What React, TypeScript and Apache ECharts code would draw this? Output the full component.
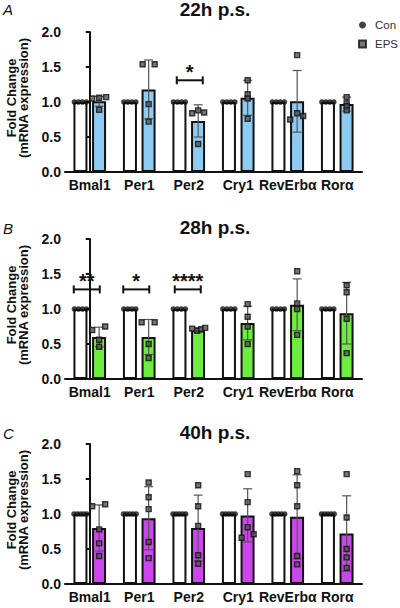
import React, { useEffect, useRef } from 'react';
import * as echarts from 'echarts';

// ---------- DATA ----------
const CATEGORIES = ['Bmal1', 'Per1', 'Per2', 'Cry1', 'RevErbα', 'Rorα'];
const PANEL_TITLES = ['22h p.s.', '28h p.s.', '40h p.s.'];
const PANEL_LETTERS = ['A', 'B', 'C'];
const Y_TITLE_1 = 'Fold Change';
const Y_TITLE_2 = '(mRNA expression)';

// 22h
const CON_MEAN_22 = [1, 1, 1, 1, 1, 1];
const EPS_MEAN_22 = [1.01, 1.18, 0.73, 1.06, 1.01, 0.97];
const EPS_SD_22 = [0.07, 0.42, 0.23, 0.25, 0.44, 0.1];
const CON_PTS_22 = [[1, 1, 1, 1], [1, 1, 1, 1], [1, 1, 1, 1], [1, 1, 1, 1], [1, 1, 1, 1], [1, 1, 1, 1]];
const EPS_PTS_22 = [
  [1.05, 1.06, 1.07, 0.89],
  [1.54, 1.54, 0.97, 0.72],
  [0.84, 0.88, 0.85, 0.4],
  [1.31, 1.11, 1.05, 0.76],
  [1.67, 0.84, 0.8, 0.75],
  [1.07, 0.98, 0.94, 0.88],
];
const SIG_22 = ['', '', '*', '', '', ''];
const SIG_H_22 = [0, 0, 1.31, 0, 0, 0];

// 28h
const CON_MEAN_28 = [1, 1, 1, 1, 1, 1];
const EPS_MEAN_28 = [0.6, 0.6, 0.7, 0.8, 1.06, 0.94];
const EPS_SD_28 = [0.14, 0.25, 0.03, 0.24, 0.37, 0.44];
const CON_PTS_28 = [[1, 1, 1, 1], [1, 1, 1, 1], [1, 1, 1, 1], [1, 1, 1, 1], [1, 1, 1, 1], [1, 1, 1, 1]];
const EPS_PTS_28 = [
  [0.7, 0.75, 0.56, 0.46],
  [0.81, 0.81, 0.5, 0.3],
  [0.72, 0.69, 0.71, 0.73],
  [1.07, 0.89, 0.75, 0.5],
  [1.54, 1.08, 1.0, 0.63],
  [1.34, 1.24, 0.86, 0.37],
];
const SIG_28 = ['**', '*', '****', '', '', ''];
const SIG_H_28 = [1.28, 1.28, 1.28, 0, 0, 0];

// 40h
const CON_MEAN_40 = [1, 1, 1, 1, 1, 1];
const EPS_MEAN_40 = [0.8, 0.94, 0.8, 0.98, 0.96, 0.72];
const EPS_SD_40 = [0.33, 0.45, 0.47, 0.38, 0.6, 0.54];
const CON_PTS_40 = [[1, 1, 1, 1, 1], [1, 1, 1, 1, 1], [1, 1, 1, 1, 1], [1, 1, 1, 1, 1], [1, 1, 1, 1, 1], [1, 1, 1, 1, 1]];
const EPS_PTS_40 = [
  [1.11, 1.14, 0.78, 0.58, 0.4],
  [1.45, 1.24, 1.07, 0.6, 0.37],
  [1.41, 1.11, 0.83, 0.41, 0.29],
  [1.57, 1.17, 0.81, 0.71, 0.66],
  [1.61, 1.41, 1.11, 0.4, 0.28],
  [1.57, 0.95, 0.5, 0.38, 0.23],
];
const SIG_40 = ['', '', '', '', '', ''];
const SIG_H_40 = [0, 0, 0, 0, 0, 0];

// ---------- LAYOUT / STYLE ----------
const FONT = 'Liberation Sans, Arial, Helvetica, sans-serif';
const CAT_PX = 49.5;
const BAR_OFF = 0.19; // bar centre offset in category units
const GRID_TOPS = [32, 239, 444];
const GRID_H = 140;
const COLORS = ['#8ecbf2', '#6ded3e', '#cc45ef'];
// horizontal jitter (px) of the EPS dots
const EPS_JIT = [
  [[-7, 0, 7, 0], [-6, 6, 0, 0], [-6, 0, 6, 0], [0, 0, 0, 0], [0, 0, 6, -7], [0, 0, 0, 0]],
  [[-7, 6, 0, 0], [-7, 6, 0, 0], [-6, -1, 3, 7], [0, 0, 0, 0], [0, 0, 0, 0], [0, 0, 0, 0]],
  [[-7, 6, 0, 0, 0], [0, 0, 0, 0, 0], [0, 0, 0, 0, 0], [0, 0, 0, 6, -6], [0, 0, 0, 0, 0], [0, 0, 0, 0, 0]],
];
const CON_JIT4 = [-6, -2, 2, 6];
const CON_JIT5 = [-6.4, -3.2, 0, 3.2, 6.4];
// bracket spans (px from category centre)
const BRACKET_SPAN = [
  [[0, 0], [0, 0], [-12, 14], [0, 0], [0, 0], [0, 0]],
  [[-16, 10], [-16, 10], [-14, 12], [0, 0], [0, 0], [0, 0]],
  [[0, 0], [0, 0], [0, 0], [0, 0], [0, 0], [0, 0]],
];

const PANELS = [
  { con: CON_MEAN_22, eps: EPS_MEAN_22, sd: EPS_SD_22, conPts: CON_PTS_22, epsPts: EPS_PTS_22, sig: SIG_22, sigH: SIG_H_22 },
  { con: CON_MEAN_28, eps: EPS_MEAN_28, sd: EPS_SD_28, conPts: CON_PTS_28, epsPts: EPS_PTS_28, sig: SIG_28, sigH: SIG_H_28 },
  { con: CON_MEAN_40, eps: EPS_MEAN_40, sd: EPS_SD_40, conPts: CON_PTS_40, epsPts: EPS_PTS_40, sig: SIG_40, sigH: SIG_H_40 },
];

function errRender(params: any, api: any) {
  const x = api.value(0);
  const m = api.value(1);
  const sd = api.value(2);
  if (!sd) return null;
  const top = api.coord([x, m + sd]);
  const bot = api.coord([x, m - sd]);
  const cap = 4.5;
  const st = { stroke: '#555', lineWidth: 1.2 };
  return {
    type: 'group',
    children: [
      { type: 'line', shape: { x1: top[0], y1: top[1], x2: bot[0], y2: bot[1] }, style: st },
      { type: 'line', shape: { x1: top[0] - cap, y1: top[1], x2: top[0] + cap, y2: top[1] }, style: st },
      { type: 'line', shape: { x1: bot[0] - cap, y1: bot[1], x2: bot[0] + cap, y2: bot[1] }, style: st },
    ],
  };
}

function makeSigRender(labels: string[], spans: number[][]) {
  return (params: any, api: any) => {
    const i = api.value(0);
    const h = api.value(1);
    const k = params.dataIndex;
    const c = api.coord([i, h]);
    const x1 = c[0] + spans[k][0];
    const x2 = c[0] + spans[k][1];
    const y = c[1];
    const st = { stroke: '#111', lineWidth: 2 };
    return {
      type: 'group',
      children: [
        { type: 'line', shape: { x1, y1: y, x2, y2: y }, style: st },
        { type: 'line', shape: { x1, y1: y - 4, x2: x1, y2: y + 4 }, style: st },
        { type: 'line', shape: { x1: x2, y1: y - 4, x2, y2: y + 4 }, style: st },
        {
          type: 'text',
          x: (x1 + x2) / 2,
          y: y - 8.5,
          style: {
            text: labels[k],
            fill: '#111',
            font: `bold 20px ${FONT}`,
            align: 'center',
            verticalAlign: 'middle',
            textAlign: 'center',
            textVerticalAlign: 'middle',
          },
        },
      ],
    };
  };
}

function buildOption() {
  const grids: any[] = [];
  const xAxes: any[] = [];
  const yAxes: any[] = [];
  const series: any[] = [];
  const graphics: any[] = [];

  PANELS.forEach((p, g) => {
    grids.push({ left: 65, right: 38, top: GRID_TOPS[g], height: GRID_H });
    xAxes.push({
      type: 'category',
      gridIndex: g,
      data: CATEGORIES,
      axisLine: { lineStyle: { color: '#111', width: 2 } },
      axisTick: { alignWithLabel: true, length: 5, lineStyle: { color: '#111', width: 2 } },
      axisLabel: { interval: 0, fontWeight: 'bold', fontSize: 14, color: '#111', margin: 6, fontFamily: FONT },
    });
    xAxes.push({ type: 'value', gridIndex: g, min: -0.5, max: 5.5, show: false });
    yAxes.push({
      type: 'value',
      gridIndex: g,
      min: 0,
      max: 2,
      interval: 0.5,
      axisLine: { show: true, lineStyle: { color: '#111', width: 2 } },
      axisTick: { show: true, length: 4, lineStyle: { color: '#111', width: 2 } },
      axisLabel: {
        formatter: (v: number) => v.toFixed(1),
        fontWeight: 'bold',
        fontSize: 14,
        color: '#111',
        margin: 4,
        fontFamily: FONT,
      },
      splitLine: { show: false },
    });

    const xCat = 2 * g;
    const xVal = 2 * g + 1;
    series.push({
      type: 'bar', name: 'Con bar', xAxisIndex: xCat, yAxisIndex: g, data: p.con,
      barWidth: 14, barGap: '33%', silent: true, z: 2,
      itemStyle: { color: '#fff', borderColor: '#111', borderWidth: 2 },
    });
    series.push({
      type: 'bar', name: 'EPS bar', xAxisIndex: xCat, yAxisIndex: g, data: p.eps,
      barWidth: 14, barGap: '33%', silent: true, z: 2,
      itemStyle: { color: COLORS[g], borderColor: '#111', borderWidth: 2 },
    });
    series.push({
      type: 'custom', name: 'EPS SD', xAxisIndex: xVal, yAxisIndex: g, z: 3, silent: true,
      renderItem: errRender,
      encode: { x: 0, y: 1 },
      data: p.eps.map((m, i) => [i + BAR_OFF, m, p.sd[i]]),
    });
    series.push({
      type: 'scatter', name: 'Con', xAxisIndex: xVal, yAxisIndex: g, z: 4, silent: true,
      symbol: 'circle', symbolSize: 5.5,
      itemStyle: { color: '#111' },
      data: p.conPts.flatMap((arr, i) =>
        arr.map((v, k) => [i - BAR_OFF + (arr.length === 5 ? CON_JIT5[k] : CON_JIT4[k]) / CAT_PX, v])
      ),
    });
    series.push({
      type: 'scatter', name: 'EPS', xAxisIndex: xVal, yAxisIndex: g, z: 4, silent: true,
      symbol: 'rect', symbolSize: 5,
      itemStyle: { color: '#555', borderColor: '#111', borderWidth: 1.4 },
      data: p.epsPts.flatMap((arr, i) => arr.map((v, k) => [i + BAR_OFF + EPS_JIT[g][i][k] / CAT_PX, v])),
    });
    const sigIdx = p.sig.map((s, i) => (s ? i : -1)).filter((i) => i >= 0);
    if (sigIdx.length) {
      series.push({
        type: 'custom', name: 'sig', xAxisIndex: xVal, yAxisIndex: g, z: 5, silent: true,
        renderItem: makeSigRender(sigIdx.map((i) => p.sig[i]), sigIdx.map((i) => BRACKET_SPAN[g][i])),
        encode: { x: 0, y: 1 },
        data: sigIdx.map((i) => [i, p.sigH[i]]),
      });
    }

    const top = GRID_TOPS[g];
    const titleY = [9, 227.5, 432.5][g];
    graphics.push({
      type: 'text', x: 215, y: titleY,
      style: {
        text: PANEL_TITLES[g], fill: '#111', font: `bold 19px ${FONT}`,
        align: 'center', verticalAlign: 'middle', textAlign: 'center', textVerticalAlign: 'middle',
      },
    });
    graphics.push({
      type: 'text', x: 3, y: titleY + 0.5,
      style: {
        text: PANEL_LETTERS[g], fill: '#111', font: `italic 15px ${FONT}`,
        align: 'left', verticalAlign: 'middle', textAlign: 'left', textVerticalAlign: 'middle',
      },
    });
    const cy = top + GRID_H / 2 - 4;
    graphics.push({
      type: 'text', x: 11, y: cy, rotation: Math.PI / 2,
      style: {
        text: Y_TITLE_1, fill: '#111', font: `bold 13px ${FONT}`,
        align: 'center', verticalAlign: 'middle', textAlign: 'center', textVerticalAlign: 'middle',
      },
    });
    graphics.push({
      type: 'text', x: 23.5, y: cy, rotation: Math.PI / 2,
      style: {
        text: Y_TITLE_2, fill: '#111', font: `bold 13px ${FONT}`,
        align: 'center', verticalAlign: 'middle', textAlign: 'center', textVerticalAlign: 'middle',
      },
    });
  });

  return {
    animation: false,
    backgroundColor: '#fff',
    textStyle: { fontFamily: FONT },
    grid: grids,
    xAxis: xAxes,
    yAxis: yAxes,
    legend: {
      orient: 'vertical',
      left: 358,
      top: 19,
      padding: 0,
      itemWidth: 7,
      itemHeight: 7,
      itemGap: 7,
      selectedMode: false,
      textStyle: { fontSize: 11.5, color: '#333', fontFamily: FONT, padding: [0, 0, 0, 4] },
      data: [
        { name: 'Con', icon: 'circle' },
        { name: 'EPS', icon: 'rect' },
      ],
    },
    graphic: graphics,
    series,
  };
}

export default function App() {
  const ref = useRef<HTMLDivElement>(null);
  useEffect(() => {
    if (!ref.current) return;
    const chart = echarts.init(ref.current, undefined, { renderer: 'svg' });
    chart.setOption(buildOption() as any);
    return () => chart.dispose();
  }, []);
  return (
    <div
      ref={ref}
      style={{ position: 'absolute', left: 0, top: 0, width: 400, height: 608, background: '#fff' }}
    />
  );
}
